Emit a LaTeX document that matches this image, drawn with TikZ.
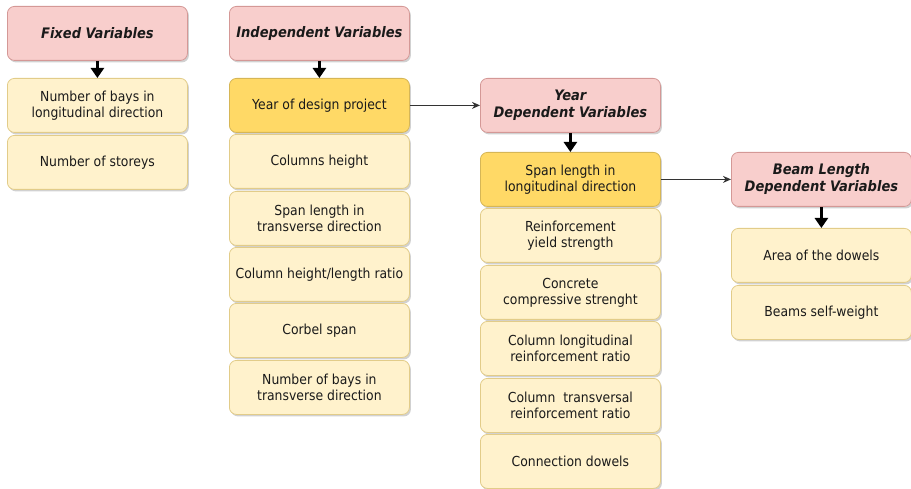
\documentclass[tikz,border=0pt]{standalone}
\usepackage{fontspec}
\setmainfont{DejaVu Sans}[FakeStretch=0.9]
\usetikzlibrary{arrows.meta,shadows}
\definecolor{pinkfill}{HTML}{F8CECC}
\definecolor{pinkdraw}{HTML}{B85450}
\definecolor{yfill}{HTML}{FFF2CC}
\definecolor{ydraw}{HTML}{D6B656}
\definecolor{dyfill}{HTML}{FFD966}
\definecolor{txt}{HTML}{1A1A1A}
\tikzset{
  base/.style={rounded corners=7pt, line width=0.8pt, minimum width=180pt, minimum height=54pt,
    anchor=north west, align=center, inner sep=2pt, text=txt, font=\fontsize{13.8}{16}\selectfont,
    drop shadow={shadow xshift=1.5pt, shadow yshift=-2pt, fill=black!40, opacity=0.45}},
  hdr/.style={base, fill=pinkfill, draw=pinkdraw!60, font=\fontsize{14.5}{17}\selectfont\bfseries\itshape},
  ybox/.style={base, fill=yfill, draw=ydraw!70},
  dybox/.style={base, fill=dyfill, draw=ydraw},
  downarr/.style={line width=3pt, -{Triangle[width=13pt,length=10pt]}, black},
  sidearr/.style={line width=0.9pt, draw=black!80, -{Stealth[length=8pt,width=7pt]}}
}
\begin{document}
\begin{tikzpicture}[x=1pt,y=-1pt]
\useasboundingbox (0,0) rectangle (911,489);
% column 1
\node[hdr] (h1) at (7,6) {Fixed Variables};
\node[ybox] (a1) at (7,78) {Number of bays in\\longitudinal direction};
\node[ybox] (a2) at (7,135) {Number of storeys};
% column 2
\node[hdr] (h2) at (229,6) {Independent Variables};
\node[dybox] (b1) at (229,78) {Year of design project};
\node[ybox] (b2) at (229,134) {Columns height};
\node[ybox] (b3) at (229,191) {Span length in\\transverse direction};
\node[ybox] (b4) at (229,247) {Column height/length ratio};
\node[ybox] (b5) at (229,303) {Corbel span};
\node[ybox] (b6) at (229,360) {Number of bays in\\transverse direction};
% column 3
\node[hdr] (h3) at (480,78) {Year\\Dependent Variables};
\node[dybox] (c1) at (480,152) {Span length in\\longitudinal direction};
\node[ybox] (c2) at (480,208) {Reinforcement\\yield strength};
\node[ybox] (c3) at (480,265) {Concrete\\compressive strenght};
\node[ybox] (c4) at (480,321) {Column longitudinal\\reinforcement ratio};
\node[ybox] (c5) at (480,378) {Column\ \ transversal\\reinforcement ratio};
\node[ybox] (c6) at (480,434) {Connection dowels};
% column 4
\node[hdr] (h4) at (731,152) {Beam Length\\Dependent Variables};
\node[ybox] (d1) at (731,228) {Area of the dowels};
\node[ybox] (d2) at (731,285) {Beams self-weight};
% arrows
\draw[downarr] (h1.south) -- (a1.north);
\draw[downarr] (h2.south) -- (b1.north);
\draw[downarr] (h3.south) -- (c1.north);
\draw[downarr] (h4.south) -- (d1.north);
\draw[sidearr] (b1.east) -- (h3.west);
\draw[sidearr] (c1.east) -- (h4.west);
\end{tikzpicture}
\end{document}
